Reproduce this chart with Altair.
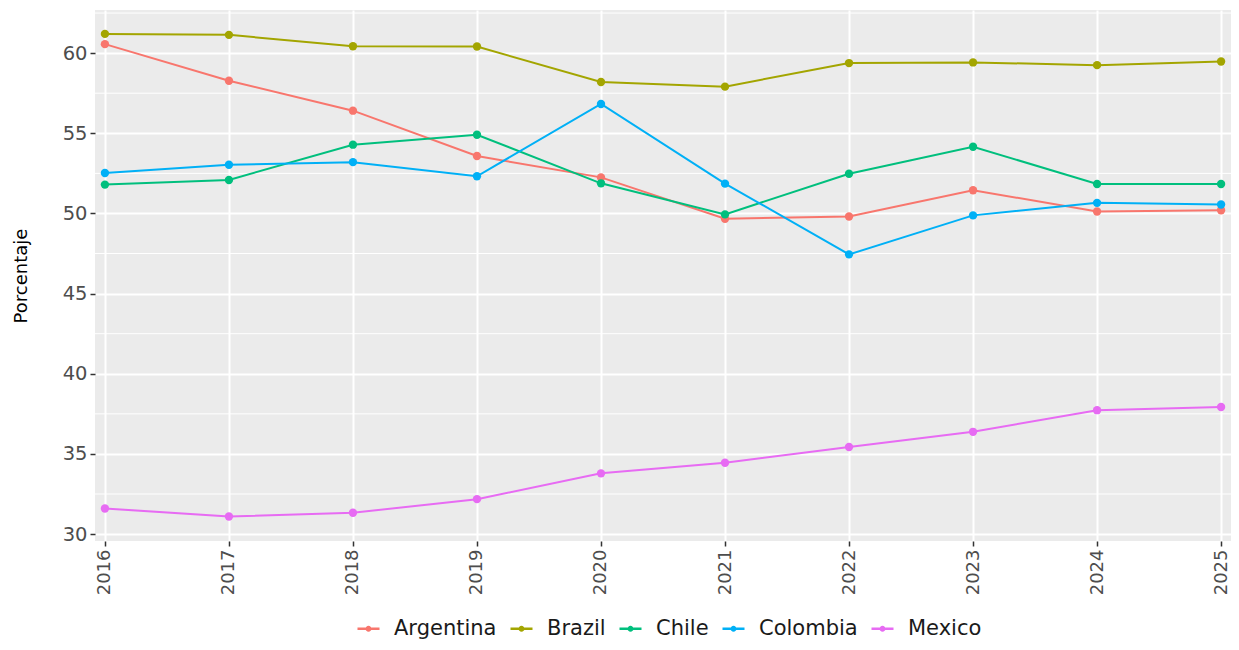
import altair as alt
import pandas as pd

years = list(range(2016, 2026))
countries = ["Argentina", "Brazil", "Chile", "Colombia", "Mexico"]
argentina = [60.56, 58.28, 56.41, 53.58, 52.25, 49.67, 49.81, 51.45, 50.12, 50.20]
brazil = [61.20, 61.14, 60.43, 60.41, 58.20, 57.91, 59.38, 59.42, 59.25, 59.48]
chile = [51.80, 52.09, 54.29, 54.91, 51.88, 49.94, 52.48, 54.16, 51.84, 51.84]
colombia = [52.52, 53.04, 53.20, 52.32, 56.83, 51.86, 47.45, 49.88, 50.66, 50.56]
mexico = [31.60, 31.10, 31.33, 32.18, 33.79, 34.45, 35.43, 36.38, 37.73, 37.93]
colors = ["#F8766D", "#A3A500", "#00BF7D", "#00B0F6", "#E76BF3"]
y_major = [30, 35, 40, 45, 50, 55, 60]
y_minor = [32.5, 37.5, 42.5, 47.5, 52.5, 57.5, 62.5]

series = [argentina, brazil, chile, colombia, mexico]
rows = []
for name, vals in zip(countries, series):
    for yr, v in zip(years, vals):
        rows.append({"year": yr, "value": v, "country": name})
df = pd.DataFrame(rows)
minor_df = pd.DataFrame({"value": y_minor})

FONT = "DejaVu Sans"
xscale = alt.Scale(domain=[2015.92, 2025.08], nice=False, zero=False)
yscale = alt.Scale(domain=[29.57, 62.69], nice=False, zero=False)

x_enc = alt.X(
    "year:Q", scale=xscale,
    axis=alt.Axis(values=years, format="d", labelAngle=-90, title=None,
                  grid=True, gridColor="white", gridWidth=2, domain=False,
                  tickColor="#333333", tickSize=5, tickWidth=1.5,
                  labelFontSize=18, labelColor="#4D4D4D", labelPadding=3,
                  labelFont=FONT),
)
y_axis = alt.Axis(values=y_major, title="Porcentaje", grid=True,
                  gridColor="white", gridWidth=2, domain=False,
                  tickColor="#333333", tickSize=5, tickWidth=1.5,
                  labelFontSize=19.5, labelColor="#4D4D4D", labelPadding=3,
                  labelFont=FONT, titleFont=FONT, titleFontSize=18,
                  titleFontWeight="normal", titleColor="#000000",
                  titlePadding=32)
y_enc = alt.Y("value:Q", scale=yscale, axis=y_axis)

minor = alt.Chart(minor_df).mark_rule(color="white", strokeWidth=1).encode(
    y=y_enc
)

sym = "M-1.1,0L1.1,0M-0.17,0a0.17,0.17 0 1,0 0.34,0a0.17,0.17 0 1,0 -0.34,0"
color_scale = alt.Scale(domain=countries, range=colors)

lines = alt.Chart(df).mark_line(strokeWidth=2).encode(
    x=x_enc, y=y_enc,
    color=alt.Color("country:N", scale=color_scale,
                    legend=alt.Legend(orient="none", legendX=262, legendY=607,
                                      direction="horizontal", title=None,
                                      symbolType=sym, symbolSize=400,
                                      symbolStrokeWidth=2.6,
                                      labelFontSize=21, labelFont=FONT,
                                      labelColor="#1A1A1A", labelOffset=14,
                                      columnPadding=8, symbolOffset=0)),
)
points = alt.Chart(df).mark_circle(size=70, opacity=1).encode(
    x=alt.X("year:Q", scale=xscale),
    y=alt.Y("value:Q", scale=yscale),
    color=alt.Color("country:N", scale=color_scale, legend=None),
)

chart = alt.layer(minor, lines, points).properties(
    width=1136, height=531,
    autosize=alt.AutoSizeParams(type="none"),
    padding={"left": 87, "top": 2, "right": 0, "bottom": 101},
).configure_view(fill="#EBEBEB", stroke=None)

chart.save("out.html", embed_options={"renderer": "svg", "actions": False})
